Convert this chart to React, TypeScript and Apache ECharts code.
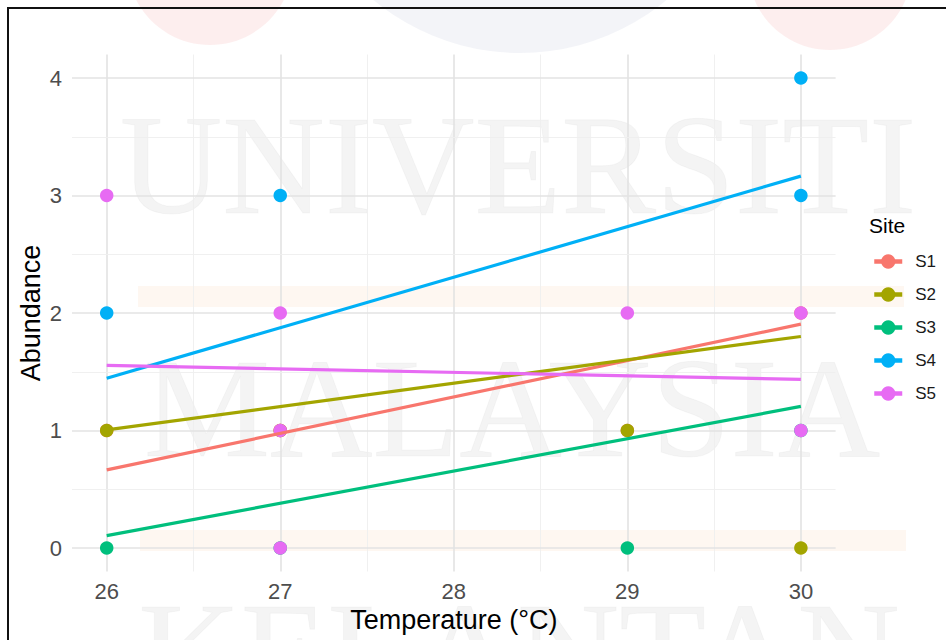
import React, { useEffect, useRef } from 'react';
import * as echarts from 'echarts';

// ---- data ----
const sites = ['S1', 'S2', 'S3', 'S4', 'S5'];

const s1Temperature = [26, 27, 29, 30];
const s1Abundance = [1, 1, 1, 2];
const s2Temperature = [26, 27, 29, 30];
const s2Abundance = [1, 1, 1, 0];
const s3Temperature = [26, 27, 29, 30];
const s3Abundance = [0, 0, 0, 1];
const s4Temperature = [26, 27, 30, 30];
const s4Abundance = [2, 3, 3, 4];
const s5Temperature = [26, 27, 27, 27, 29, 30, 30];
const s5Abundance = [3, 2, 1, 0, 2, 2, 1];

// fitted (linear) trend lines: value at 26 and at 30 °C
const fitTemperature = [26, 30];
const fitS1 = [0.665, 1.905];
const fitS2 = [1.005, 1.8];
const fitS3 = [0.105, 1.205];
const fitS4 = [1.445, 3.165];
const fitS5 = [1.555, 1.435];

const xMajorTicks = [26, 27, 28, 29, 30];
const xMinorTicks = [26.5, 27.5, 28.5, 29.5];
const yMajorTicks = [0, 1, 2, 3, 4];
const yMinorTicks = [0.5, 1.5, 2.5, 3.5];

const watermarkWords = ['UNIVERSITI', 'MALAYSIA', 'KELANTAN'];

// ---- styles ----
const palette = ['#F8766D', '#A3A500', '#00BF7D', '#00B0F6', '#E76BF3'];
const SANS = '"Liberation Sans", Arial, Helvetica, sans-serif';
const SERIF = '"Liberation Serif", "Times New Roman", serif';

const pointTemps = [s1Temperature, s2Temperature, s3Temperature, s4Temperature, s5Temperature];
const pointAbund = [s1Abundance, s2Abundance, s3Abundance, s4Abundance, s5Abundance];
const fits = [fitS1, fitS2, fitS3, fitS4, fitS5];

const isInt = (v: number) => Math.abs(v - Math.round(v)) < 1e-6;

export default function App() {
  const ref = useRef<HTMLDivElement>(null);

  useEffect(() => {
    if (!ref.current) return;
    const chart = echarts.init(ref.current, null, { renderer: 'svg' });

    const majorStyle = { color: '#e3e3e3', width: 1.6, type: 'solid' as const };
    const minorStyle = { color: '#eeeeee', width: 0.9, type: 'solid' as const };

    const gridLines = [
      ...xMajorTicks.map((v) => ({ xAxis: v, lineStyle: majorStyle })),
      ...xMinorTicks.map((v) => ({ xAxis: v, lineStyle: minorStyle })),
      ...yMajorTicks.map((v) => ({ yAxis: v, lineStyle: majorStyle })),
      ...yMinorTicks.map((v) => ({ yAxis: v, lineStyle: minorStyle })),
    ];

    const lineSeries = sites.map((name, i) => ({
      name,
      type: 'line',
      z: 4,
      data: fitTemperature.map((t, k) => [t, fits[i][k]]),
      symbol: 'circle',
      showSymbol: false,
      symbolSize: 13,
      lineStyle: { color: palette[i], width: 3.2 },
      itemStyle: { color: palette[i] },
      silent: true,
    }));

    const scatterSeries = sites.map((name, i) => ({
      name,
      type: 'scatter',
      z: 3,
      data: pointTemps[i].map((t, k) => [t, pointAbund[i][k]]),
      symbol: 'circle',
      symbolSize: 13.5,
      itemStyle: { color: palette[i], opacity: 1 },
      silent: true,
    }));

    const gridSeries = {
      name: 'grid',
      type: 'line',
      z: 1,
      data: [[26, 0]],
      showSymbol: false,
      lineStyle: { width: 0 },
      silent: true,
      markLine: {
        z: 1,
        silent: true,
        symbol: ['none', 'none'],
        label: { show: false },
        emphasis: { disabled: true },
        data: gridLines,
      },
    };

    const wm = [
      { x: 518, y: 165 },
      { x: 512, y: 408 },
      { x: 519, y: 652 },
    ];

    chart.setOption({
      animation: false,
      backgroundColor: '#ffffff',
      grid: { left: 72, right: 110.4, top: 54.5, bottom: 68.5, containLabel: false },
      xAxis: {
        type: 'value',
        min: 25.8,
        max: 30.2,
        interval: 0.2,
        axisLine: { show: false },
        axisTick: { show: false },
        splitLine: { show: false },
        axisLabel: {
          color: '#4d4d4d',
          fontSize: 22,
          fontFamily: SANS,
          margin: 9,
          formatter: (v: number) => (isInt(v) ? String(Math.round(v)) : ''),
        },
        name: 'Temperature (°C)',
        nameLocation: 'middle',
        nameMoveOverlap: false,
        nameGap: 35,
        nameTextStyle: { color: '#000', fontSize: 27, fontFamily: SANS },
      },
      yAxis: {
        type: 'value',
        min: -0.2,
        max: 4.2,
        interval: 0.2,
        axisLine: { show: false },
        axisTick: { show: false },
        splitLine: { show: false },
        axisLabel: {
          color: '#4d4d4d',
          fontSize: 22,
          fontFamily: SANS,
          margin: 10,
          formatter: (v: number) => (isInt(v) ? String(Math.round(v)) : ''),
        },
        name: 'Abundance',
        nameLocation: 'middle',
        nameRotate: 90,
        nameMoveOverlap: false,
        nameGap: 28,
        nameTextStyle: { color: '#000', fontSize: 27, fontFamily: SANS },
      },
      legend: {
        data: sites,
        orient: 'vertical',
        left: 867,
        top: 248,
        padding: 5,
        itemWidth: 28,
        itemHeight: 18,
        itemGap: 16,
        selectedMode: false,
        lineStyle: { width: 4.5 },
        textStyle: { color: '#1a1a1a', fontSize: 17, fontFamily: SANS, padding: [0, 0, 0, 8] },
      },
      graphic: {
        elements: [
          { type: 'circle', silent: true, z: 0, shape: { cx: 210, cy: -38, r: 83 }, style: { fill: 'rgba(240,100,100,0.11)' } },
          { type: 'circle', silent: true, z: 0, shape: { cx: 520, cy: -176, r: 229 }, style: { fill: 'rgba(90,110,160,0.075)' } },
          { type: 'circle', silent: true, z: 0, shape: { cx: 830, cy: -32, r: 82 }, style: { fill: 'rgba(240,100,100,0.11)' } },
          { type: 'rect', silent: true, z: 0, shape: { x: 138, y: 286, width: 766, height: 21 }, style: { fill: 'rgba(240,150,80,0.08)' } },
          { type: 'rect', silent: true, z: 0, shape: { x: 140, y: 530, width: 766, height: 21 }, style: { fill: 'rgba(240,150,80,0.08)' } },
          ...watermarkWords.map((w, i) => ({
            type: 'text',
            silent: true,
            z: 0,
            x: wm[i].x,
            y: wm[i].y,
            style: {
              text: w,
              fontSize: 142,
              fontFamily: SERIF,
              fill: 'rgba(0,0,0,0.045)',
              stroke: 'rgba(0,0,0,0.03)',
              lineWidth: 1,
              align: 'center',
              textAlign: 'center',
              verticalAlign: 'middle',
              textVerticalAlign: 'middle',
            },
          })),
          {
            type: 'text',
            silent: true,
            z: 5,
            x: 869,
            y: 225,
            style: {
              text: 'Site',
              fontSize: 21,
              fontFamily: SANS,
              fill: '#000',
              align: 'left',
              textAlign: 'left',
              verticalAlign: 'middle',
              textVerticalAlign: 'middle',
            },
          },
          {
            type: 'rect',
            silent: true,
            z: 10,
            shape: { x: 8, y: 8, width: 1000, height: 1000 },
            style: { fill: 'none', stroke: '#111', lineWidth: 2 },
          },
        ],
      },
      series: [...lineSeries, ...scatterSeries, gridSeries],
    });

    return () => chart.dispose();
  }, []);

  return (
    <div
      ref={ref}
      style={{ position: 'fixed', left: 0, top: 0, width: 946, height: 640 }}
    />
  );
}
